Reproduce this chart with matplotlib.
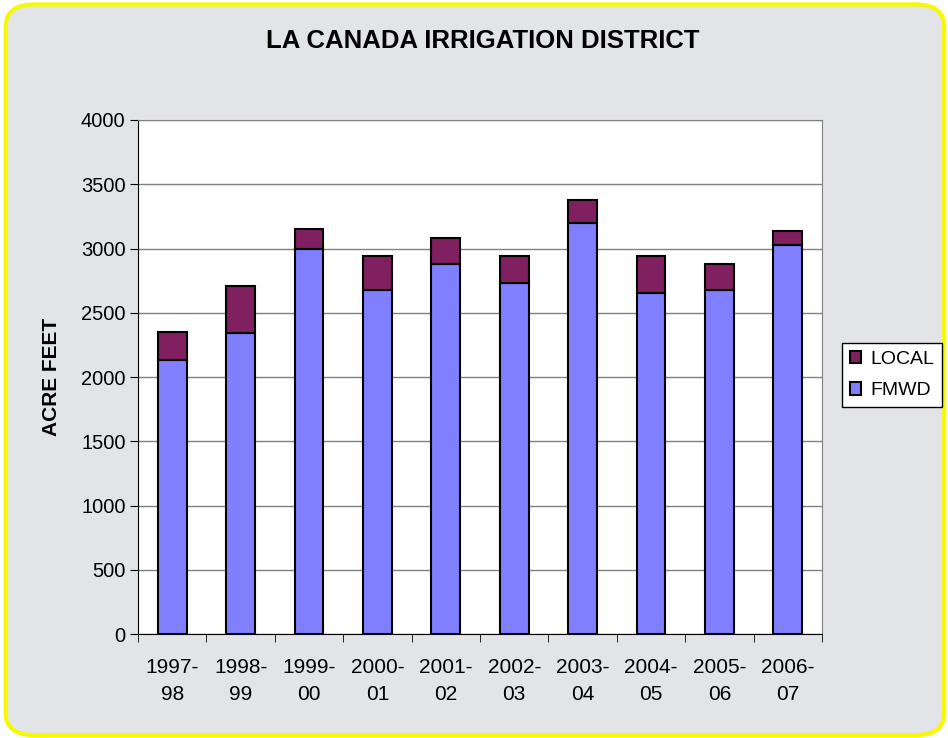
import matplotlib.pyplot as plt
from matplotlib.patches import FancyBboxPatch
import numpy as np

years = ["1997-\n98", "1998-\n99", "1999-\n00", "2000-\n01", "2001-\n02",
         "2002-\n03", "2003-\n04", "2004-\n05", "2005-\n06", "2006-\n07"]
fmwd = [2130, 2345, 3000, 2675, 2880, 2735, 3200, 2655, 2675, 3030]
local = [220, 360, 155, 265, 200, 205, 175, 285, 205, 110]

plt.rcParams["font.family"] = ["Liberation Sans", "DejaVu Sans"]

fig = plt.figure(figsize=(9.48, 7.38), dpi=100)
fig.patch.set_facecolor("white")

# marble-ish panel with yellow rounded border
panel = FancyBboxPatch((0.006, 0.004), 0.99, 0.99,
                       boxstyle="round,pad=0,rounding_size=0.03",
                       transform=fig.transFigure, facecolor="#e3e4e7",
                       edgecolor="#f8f800", linewidth=3, zorder=-5)
fig.patches.append(panel)

ax = fig.add_axes([0.1456, 0.1409, 0.7215, 0.6965])
ax.set_zorder(2)
ax.set_facecolor("white")

x = np.arange(len(years))
ax.bar(x, fmwd, width=0.42, color="#8080ff", edgecolor="black",
       linewidth=1.5, label="FMWD", zorder=3)
ax.bar(x, local, width=0.42, bottom=fmwd, color="#802060", edgecolor="black",
       linewidth=1.5, label="LOCAL", zorder=3)

ax.set_xlim(-0.5, len(years) - 0.5)
ax.set_ylim(0, 4000)
ax.set_yticks(range(0, 4001, 500))
ax.yaxis.grid(True, color="#808080", linewidth=1, zorder=0)

ax.set_xticks(x)
ax.set_xticklabels(years, fontsize=15, linespacing=1.55)
ax.set_xticks(np.arange(-0.5, len(years), 1), minor=True)
ax.tick_params(axis="x", which="major", length=0, pad=17)
ax.tick_params(axis="x", which="minor", length=6, direction="out")
ax.tick_params(axis="y", labelsize=14.5, length=6, direction="out", pad=3)

for s in ax.spines.values():
    s.set_color("#808080")
ax.spines["left"].set_color("black")
ax.spines["bottom"].set_color("black")

fig.text(0.509, 0.945, "LA CANADA IRRIGATION DISTRICT", fontsize=18.5,
         fontweight="bold", ha="center", va="center")
ax.set_ylabel("ACRE FEET", fontsize=15, fontweight="bold", labelpad=14)

handles, labels = ax.get_legend_handles_labels()
leg = ax.legend(handles[::-1], labels[::-1], loc="center left",
                bbox_to_anchor=(1.029, 0.504), borderaxespad=0, fontsize=14,
                frameon=True, fancybox=False, edgecolor="black",
                handlelength=0.6, handleheight=0.6, handletextpad=0.45,
                labelspacing=0.75, borderpad=0.4)
leg.get_frame().set_facecolor("white")
leg.get_frame().set_alpha(None)

fig.savefig("out.png", dpi=100)
